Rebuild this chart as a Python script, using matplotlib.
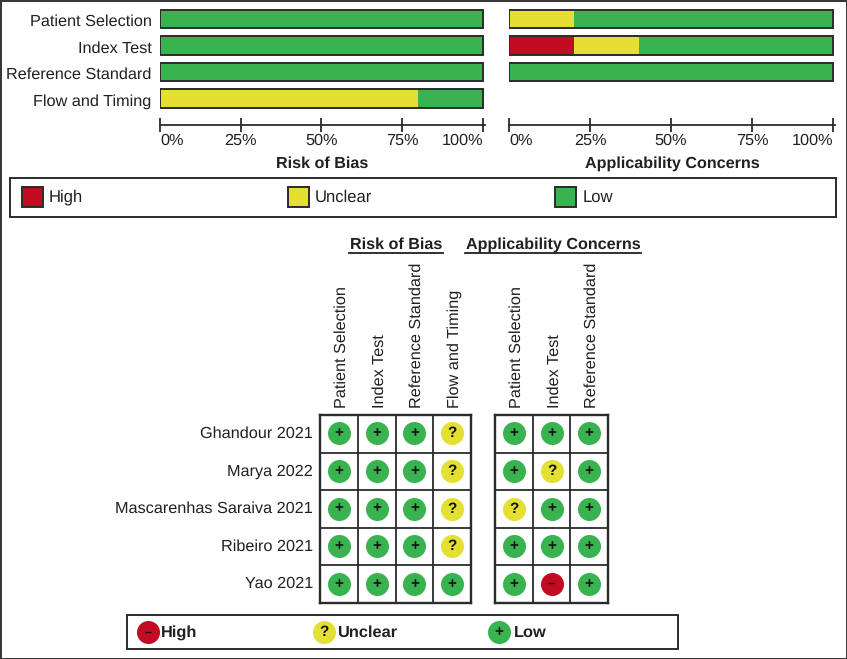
import matplotlib
matplotlib.use("Agg")
import matplotlib.pyplot as plt
from matplotlib.patches import Rectangle

plt.rcParams['font.family'] = ['Liberation Sans', 'DejaVu Sans']
plt.rcParams['text.hinting'] = 'no_hinting'

W, H = 847, 659
INK = '#231F20'
RED, YEL, GRN = '#C20A22', '#E5DF33', '#39B350'

# ---- data ----
levels = ['High', 'Unclear', 'Low']
bias_domains = ['Patient Selection', 'Index Test', 'Reference Standard', 'Flow and Timing']
appl_domains = ['Patient Selection', 'Index Test', 'Reference Standard']
bias_high = [0, 0, 0, 0]
bias_unclear = [0, 0, 0, 80]
bias_low = [100, 100, 100, 20]
appl_high = [0, 20, 0]
appl_unclear = [20, 20, 0]
appl_low = [80, 60, 100]
pct_ticks = [0, 25, 50, 75, 100]
studies = ['Ghandour 2021', 'Marya 2022', 'Mascarenhas Saraiva 2021', 'Ribeiro 2021', 'Yao 2021']
bias_judgements = [['L', 'L', 'L', 'U'],
                   ['L', 'L', 'L', 'U'],
                   ['L', 'L', 'L', 'U'],
                   ['L', 'L', 'L', 'U'],
                   ['L', 'L', 'L', 'L']]
appl_judgements = [['L', 'L', 'L'],
                   ['L', 'U', 'L'],
                   ['U', 'L', 'L'],
                   ['L', 'L', 'L'],
                   ['L', 'H', 'L']]
style = {'H': (RED, '\u2013'), 'U': (YEL, '?'), 'L': (GRN, '+')}


def px_axes(fig, x0, y0, x1, y1, **kw):
    return fig.add_axes([x0 / W, 1 - y1 / H, (x1 - x0) / W, (y1 - y0) / H], **kw)


fig = plt.figure(figsize=(W / 100, H / 100), dpi=100, facecolor='white')

# overlay in pixel coordinates for frames and legends
ov = fig.add_axes([0, 0, 1, 1], zorder=0)
ov.set_xlim(0, W)
ov.set_ylim(H, 0)
ov.axis('off')
ov.add_patch(Rectangle((0.5, 0.5), W - 1, H - 1, fill=False, ec='#333333', lw=1.4))


def bar_panel(x0, x1, xmax, names, high, unclear, low, title, show_labels):
    ax = px_axes(fig, x0, 6, x1, 125, zorder=2)
    ax.patch.set_alpha(0)
    pos = list(range(len(names)))
    lefts = [0] * len(names)
    for vals, col in ((high, RED), (unclear, YEL), (low, GRN)):
        ax.barh(pos, vals, left=lefts, height=0.71, color=col, lw=0)
        lefts = [a + b for a, b in zip(lefts, vals)]
    ax.barh(pos, lefts, height=0.71, fill=False, ec='#2B2B2B', lw=1.4)
    ax.set_xlim(0, xmax)
    ax.set_ylim(4.0, -0.49)
    for s in ('top', 'left', 'right'):
        ax.spines[s].set_visible(False)
    ax.spines['bottom'].set_linewidth(1.3)
    ax.spines['bottom'].set_color('#2B2B2B')
    ax.set_xticks(pct_ticks)
    ax.set_xticklabels([f'{t}%' for t in pct_ticks], fontsize=11.7, color=INK)
    ax.tick_params(axis='x', direction='inout', length=10, width=1.3, color='#2B2B2B', pad=1)
    lab = ax.get_xticklabels()
    lab[0].set_ha('left')
    lab[-1].set_ha('right')
    ax.set_yticks([])
    if show_labels:
        for i, n in zip(pos, names):
            ax.annotate(n, (0, i), xytext=(-6, -2.2), textcoords='offset points',
                        ha='right', va='center', fontsize=11.7, color=INK)
    ov.text((x0 + x1) / 2, 168, title, ha='center', va='baseline', fontsize=11.6,
            fontweight='bold', color=INK)


bar_panel(160, 484.5, 100.5, bias_domains, bias_high, bias_unclear, bias_low, 'Risk of Bias', True)
bar_panel(509, 835, 100.6, appl_domains, appl_high, appl_unclear, appl_low, 'Applicability Concerns', False)

# top legend
ov.add_patch(Rectangle((9.5, 178), 826.5, 38.5, fill=False, ec='#2B2B2B', lw=1.4))
for lev, col, sx, tx in zip(levels, (RED, YEL, GRN), (22, 288, 555), (49, 315, 583)):
    ov.add_patch(Rectangle((sx, 186.5), 20.5, 20.5, fc=col, ec='#2B2B2B', lw=1.4))
    ov.text(tx, 197, lev, va='center', ha='left', fontsize=12, color=INK)


def light_panel(x0, x1, names, rows, label_rows):
    ax = px_axes(fig, x0, 415, x1, 603, zorder=2)
    nc, nr = len(names), len(rows)
    ax.set_xlim(0, nc)
    ax.set_ylim(nr, 0)
    for r, row in enumerate(rows):
        for c, j in enumerate(row):
            col, sym = style[j]
            ax.scatter(c + 0.5, r + 0.49, s=275, color=col, lw=0, zorder=3)
            ax.text(c + 0.5, r + 0.49, sym, ha='center', va='center', fontsize=11 if j != 'H' else 9,
                    fontweight='bold', color='#111111', zorder=4)
    ax.set_xticks(range(1, nc))
    ax.set_yticks(range(1, nr))
    ax.grid(True, color='#2B2B2B', lw=1.3)
    ax.set_axisbelow(True)
    ax.tick_params(length=0, labelbottom=False, labelleft=False)
    for s in ax.spines.values():
        s.set_linewidth(1.7)
        s.set_color('#2B2B2B')
    for c, n in enumerate(names):
        ax.annotate(n, (c + 0.5, 0), xytext=(2, 5), textcoords='offset points', rotation=90,
                    ha='center', va='bottom', fontsize=11.7, color=INK)
    if label_rows:
        for r, n in enumerate(label_rows):
            ax.annotate(n, (0, r + 0.5), xytext=(-5, 0), textcoords='offset points',
                        ha='right', va='center', fontsize=11.7, color=INK)


light_panel(320, 471, bias_domains, bias_judgements, studies)
light_panel(495, 608, appl_domains, appl_judgements, None)

# headings with underline
for cx, x0, x1, t in ((396, 349, 443, 'Risk of Bias'), (553, 465, 641, 'Applicability Concerns')):
    ov.text(cx, 249, t, ha='center', va='baseline', fontsize=11.6, fontweight='bold', color=INK)
    ov.plot([x0, x1], [253, 253], color=INK, lw=1.3)

# bottom legend
ov.add_patch(Rectangle((126.5, 615), 551.5, 34, fill=False, ec='#2B2B2B', lw=1.4))
for lev, key, cx, tx in zip(levels, 'HUL', (148, 324, 499), (161, 337, 514)):
    col, sym = style[key]
    ov.scatter(cx, 632, s=275, color=col, lw=0, zorder=3)
    ov.text(cx, 632, sym, ha='center', va='center', fontsize=11 if key != 'H' else 9,
            fontweight='bold', color='#111111', zorder=4)
    ov.text(tx, 637, lev, ha='left', va='baseline', fontsize=11.8, fontweight='bold', color=INK)

fig.savefig('out.png', dpi=100)
